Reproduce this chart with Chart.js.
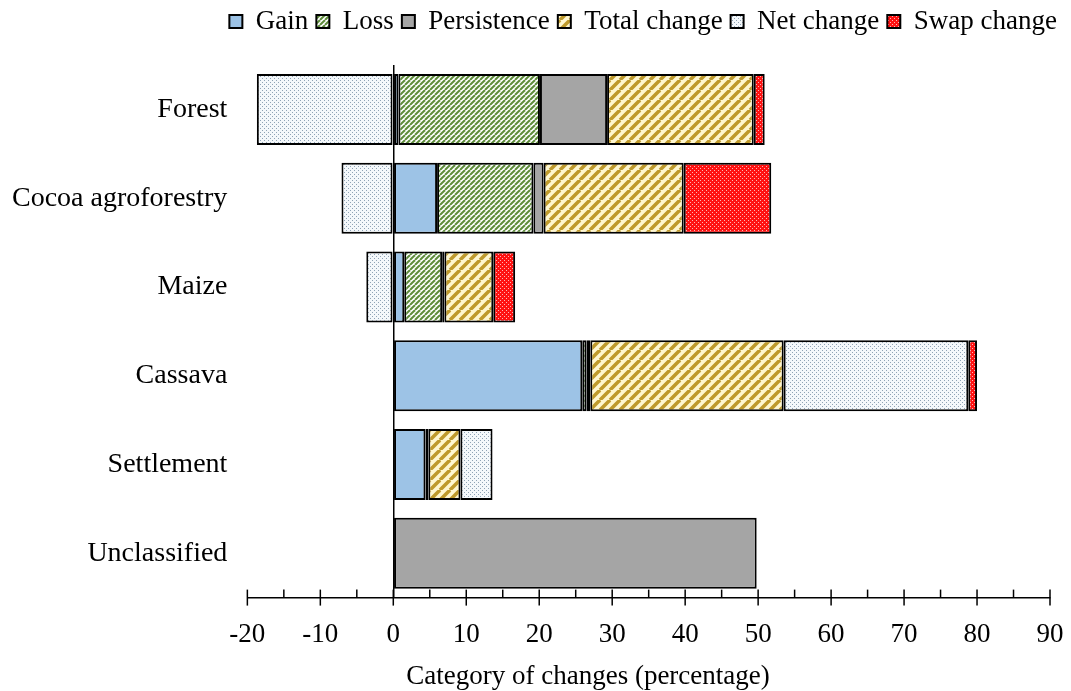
<!DOCTYPE html>
<html>
<head>
<meta charset="utf-8">
<script src="https://cdn.jsdelivr.net/npm/chart.js@4"></script>
<style>
  body { margin: 0; background: #fff; }
  #wrap { width: 1071px; height: 691px; }
</style>
</head>
<body>
<div id="wrap"><canvas id="chart" width="1071" height="691"></canvas></div>
<script>
// Categories (top to bottom)
const categories = ['Forest', 'Cocoa agroforestry', 'Maize', 'Cassava', 'Settlement', 'Unclassified'];

// Series values (percentage)
const gain        = [0.7, 6.0, 1.5, 25.9, 4.4, 0];
const loss        = [19.4, 13.2, 5.2, 0.6, 0, 0];
const persistence = [9.2, 1.4, 0.3, 0.5, 0.4, 49.8];
const totalChange = [20.1, 19.2, 6.7, 26.5, 4.4, 0];
const netChange   = [-18.7, -7.1, -3.7, 25.3, 4.4, 0];
const swapChange  = [1.5, 12.0, 3.0, 1.2, 0, 0];

// Axis ticks
const majorTicks = [-20, -10, 0, 10, 20, 30, 40, 50, 60, 70, 80, 90];
const minorTicks = [-15, -5, 5, 15, 25, 35, 45, 55, 65, 75, 85];
const axisTitle = 'Category of changes (percentage)';

const FONT = "'Liberation Serif', 'Times New Roman', serif";
Chart.defaults.font.family = FONT;
Chart.defaults.font.size = 27;
Chart.defaults.color = '#000';

// Pattern helpers
function makeTile(size, bg) {
  const c = document.createElement('canvas');
  c.width = size;
  c.height = size;
  const g = c.getContext('2d');
  g.fillStyle = bg;
  g.fillRect(0, 0, size, size);
  return { c, g };
}

function stripes(size, bg, fg, width) {
  const { c, g } = makeTile(size, bg);
  g.strokeStyle = fg;
  g.lineWidth = width;
  for (let k = -1; k <= 1; k++) {
    g.beginPath();
    g.moveTo(k * size, size);
    g.lineTo(k * size + size, 0);
    g.stroke();
  }
  return g.createPattern(c, 'repeat');
}

function dots(size, bg, fg) {
  const { c, g } = makeTile(size, bg);
  g.fillStyle = fg;
  g.fillRect(0, 0, 1, 1);
  g.fillRect(size / 2, size / 2, 1, 1);
  return g.createPattern(c, 'repeat');
}

const gainFill = '#9DC3E6';
const lossFill = stripes(5, '#ffffff', '#5E8C3A', 2);
const persistenceFill = '#A5A5A5';
const totalFill = stripes(10, '#FFF7D0', '#BF9A2C', 3.5);
const netFill = dots(4, '#F4F8FB', '#8FA3B5');
const swapFill = dots(4, '#FF1111', '#FFB3B3');

function series(label, data, fill) {
  return {
    label: label,
    data: data,
    backgroundColor: fill,
    borderColor: '#000',
    borderWidth: 2,
    borderSkipped: false,
    barPercentage: 1,
    categoryPercentage: 0.8
  };
}

// Extra room below the legend, and legend placed over the plot
const legendPlace = {
  id: 'legendPlace',
  beforeInit(chart) {
    const fit = chart.legend.fit;
    chart.legend.fit = function () {
      fit.bind(chart.legend)();
      this.height += 20;
    };
  },
  afterLayout(chart) {
    chart.legend.right = chart.chartArea.right + 15;
  }
};

// Draw the tick marks crossing the x axis line, and the axis title
const axisDecor = {
  id: 'axisDecor',
  afterDraw(chart) {
    const x = chart.scales.x;
    const ctx = chart.ctx;
    const y0 = x.top;
    ctx.save();
    ctx.strokeStyle = '#000';
    ctx.lineWidth = 1.5;
    majorTicks.forEach(v => {
      const px = x.getPixelForValue(v);
      ctx.beginPath();
      ctx.moveTo(px, y0 - 8);
      ctx.lineTo(px, y0 + 8);
      ctx.stroke();
    });
    minorTicks.forEach(v => {
      const px = x.getPixelForValue(v);
      ctx.beginPath();
      ctx.moveTo(px, y0 - 8);
      ctx.lineTo(px, y0);
      ctx.stroke();
    });
    ctx.fillStyle = '#000';
    ctx.font = '27px ' + FONT;
    ctx.textAlign = 'center';
    ctx.textBaseline = 'middle';
    ctx.fillText(axisTitle, 588, chart.height - 14);
    ctx.restore();
  }
};

const ctx = document.getElementById('chart').getContext('2d');
new Chart(ctx, {
  type: 'bar',
  data: {
    labels: categories,
    datasets: [
      series('Gain', gain, gainFill),
      series('Loss', loss, lossFill),
      series('Persistence', persistence, persistenceFill),
      series('Total change', totalChange, totalFill),
      series('Net change', netChange, netFill),
      series('Swap change', swapChange, swapFill)
    ]
  },
  options: {
    indexAxis: 'y',
    responsive: false,
    animation: false,
    layout: { padding: { left: -8, right: 0, top: 0, bottom: 19 } },
    plugins: {
      legend: {
        position: 'top',
        align: 'end',
        labels: {
          font: { family: FONT, size: 27 },
          color: '#000',
          boxWidth: 13,
          boxHeight: 13,
          padding: 8
        }
      },
      tooltip: { enabled: false }
    },
    scales: {
      x: {
        stacked: true,
        min: -20,
        max: 90,
        afterFit(scale) {
          scale.paddingRight = 21;
        },
        grid: {
          color: c => (c.tick && c.tick.value === 0 ? '#000' : 'transparent'),
          lineWidth: 1.5,
          drawTicks: false
        },
        border: { display: true, color: '#000', width: 1.5 },
        ticks: {
          stepSize: 10,
          padding: 21,
          color: '#000',
          font: { family: FONT, size: 27 }
        }
      },
      y: {
        stacked: true,
        grid: { display: false, drawTicks: false },
        border: { display: false },
        ticks: {
          padding: 20,
          color: '#000',
          font: { family: FONT, size: 28 }
        }
      }
    }
  },
  plugins: [legendPlace, axisDecor]
});
</script>
</body>
</html>
